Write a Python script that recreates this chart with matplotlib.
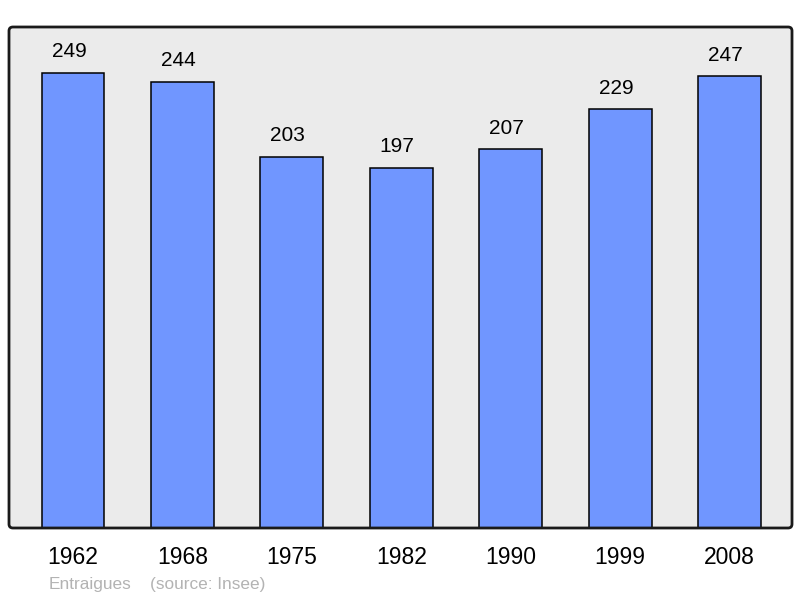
import matplotlib
matplotlib.use("Agg")
import matplotlib.pyplot as plt
from matplotlib.patches import FancyBboxPatch

years = ["1962", "1968", "1975", "1982", "1990", "1999", "2008"]
population = [249, 244, 203, 197, 207, 229, 247]
place = "Entraigues"
source = "(source: Insee)"

plt.rcParams['font.family'] = ['Liberation Sans', 'DejaVu Sans']

W, H = 800, 598
fig = plt.figure(figsize=(W / 100, H / 100), dpi=100)
ax = fig.add_axes([9 / W, (H - 528) / H, 783 / W, 501 / H])
ax.set_facecolor('none')
for s in ax.spines.values():
    s.set_visible(False)

frame_bg = FancyBboxPatch((0, 0), 1, 1, boxstyle="round,pad=0,rounding_size=0.005",
                          mutation_aspect=783 / 501, transform=ax.transAxes,
                          facecolor='#ebebeb', edgecolor='none', zorder=0, clip_on=False)
ax.add_patch(frame_bg)

x = list(range(len(years)))
bars = ax.bar(x, population, width=0.575, color='#7096ff', edgecolor='black',
              linewidth=1.1, zorder=2)
for xi, v in zip(x, population):
    ax.annotate(str(v), (xi, v), xytext=(-2.9, 15.2), textcoords='offset points',
                ha='center', va='center', fontsize=15, color='black')

frame = FancyBboxPatch((0, 0), 1, 1, boxstyle="round,pad=0,rounding_size=0.005",
                       mutation_aspect=783 / 501, transform=ax.transAxes,
                       facecolor='none', edgecolor='#1a1a1a', linewidth=2,
                       zorder=5, clip_on=False)
ax.add_patch(frame)

ax.set_xlim(-0.585, 6.57)
ax.set_ylim(0, max(population) * 1.1)
ax.set_yticks([])
ax.set_xticks(x)
ax.set_xticklabels(years, fontsize=16.5)
ax.tick_params(axis='x', length=0, pad=13)

fig.text(49 / W, 1 - 584 / H, place, fontsize=12.4, color='#b3b3b3', va='center', ha='left')
fig.text(150 / W, 1 - 584 / H, source, fontsize=12.4, color='#b3b3b3', va='center', ha='left')

fig.savefig("out.png", dpi=100)
